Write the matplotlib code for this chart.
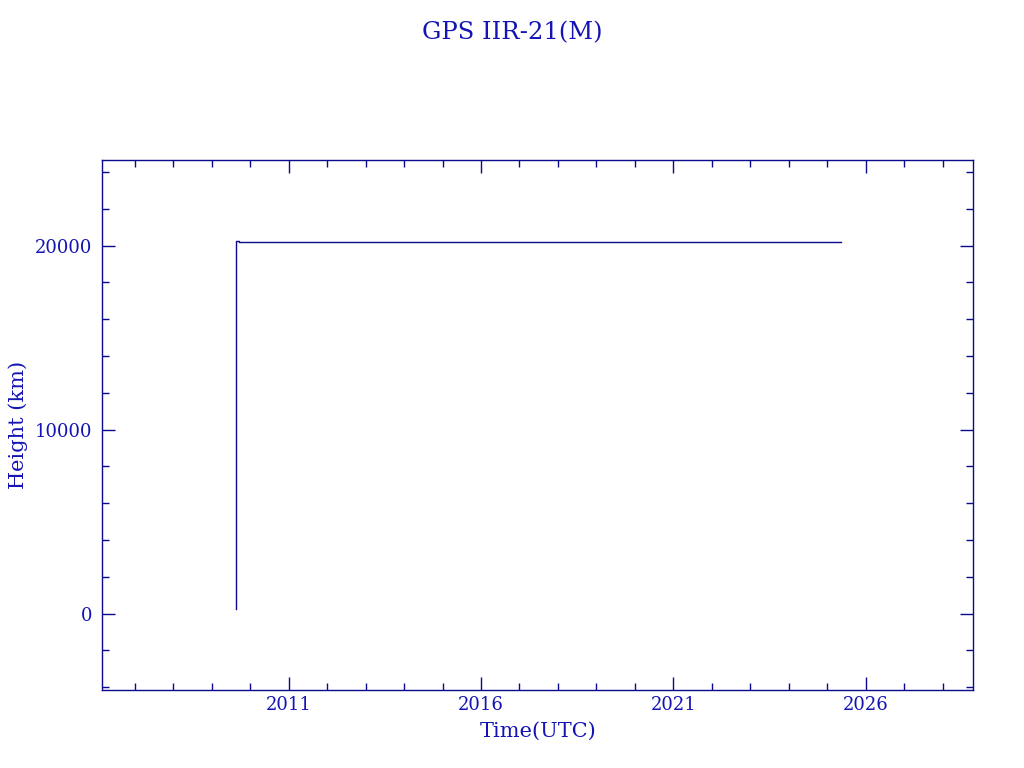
import matplotlib
matplotlib.use("Agg")
import matplotlib.pyplot as plt
from matplotlib.ticker import MultipleLocator

# orbit height history, decimal years vs km
years = [2009.622, 2009.622, 2009.638, 2009.638, 2009.700, 2009.700, 2025.35]
heights = [234, 10300, 10300, 20240, 20240, 20185, 20185]

title = "GPS IIR-21(M)"
xlabel = "Time(UTC)"
ylabel = "Height (km)"

text_col = "#1414b4"
line_col = "#0a0a8c"

plt.rcParams['font.family'] = ['DejaVu Serif']

fig = plt.figure(figsize=(10.24, 7.68), dpi=100)
ax = fig.add_axes([0.0999, 0.1016, 0.8506, 0.6897])

ax.plot(years, heights, color=line_col, linewidth=1.0)

ax.set_xlim(2006.155, 2028.797)
ax.set_ylim(-4147, 24641)

ax.xaxis.set_major_locator(MultipleLocator(5, offset=1))
ax.xaxis.set_minor_locator(MultipleLocator(1))
ax.yaxis.set_major_locator(MultipleLocator(10000))
ax.yaxis.set_minor_locator(MultipleLocator(2000))
ax.xaxis.set_major_formatter(matplotlib.ticker.FuncFormatter(lambda v, p: f"{v:.0f}"))

for s in ax.spines.values():
    s.set_color(line_col)
    s.set_linewidth(1.0)

ax.tick_params(which='both', direction='in', top=True, right=True,
               color=line_col, width=1.0, labelcolor=text_col, labelsize=13)
ax.tick_params(which='major', length=9.5)
ax.tick_params(which='minor', length=5)
ax.tick_params(axis='x', which='major', pad=4)
ax.tick_params(axis='y', which='major', pad=7)

ax.set_xlabel(xlabel, color=text_col, fontsize=15, labelpad=6)
ax.set_ylabel(ylabel, color=text_col, fontsize=15, labelpad=5)
fig.suptitle(title, color=text_col, fontsize=17.5, y=0.973)

fig.savefig("out.png", dpi=100)
